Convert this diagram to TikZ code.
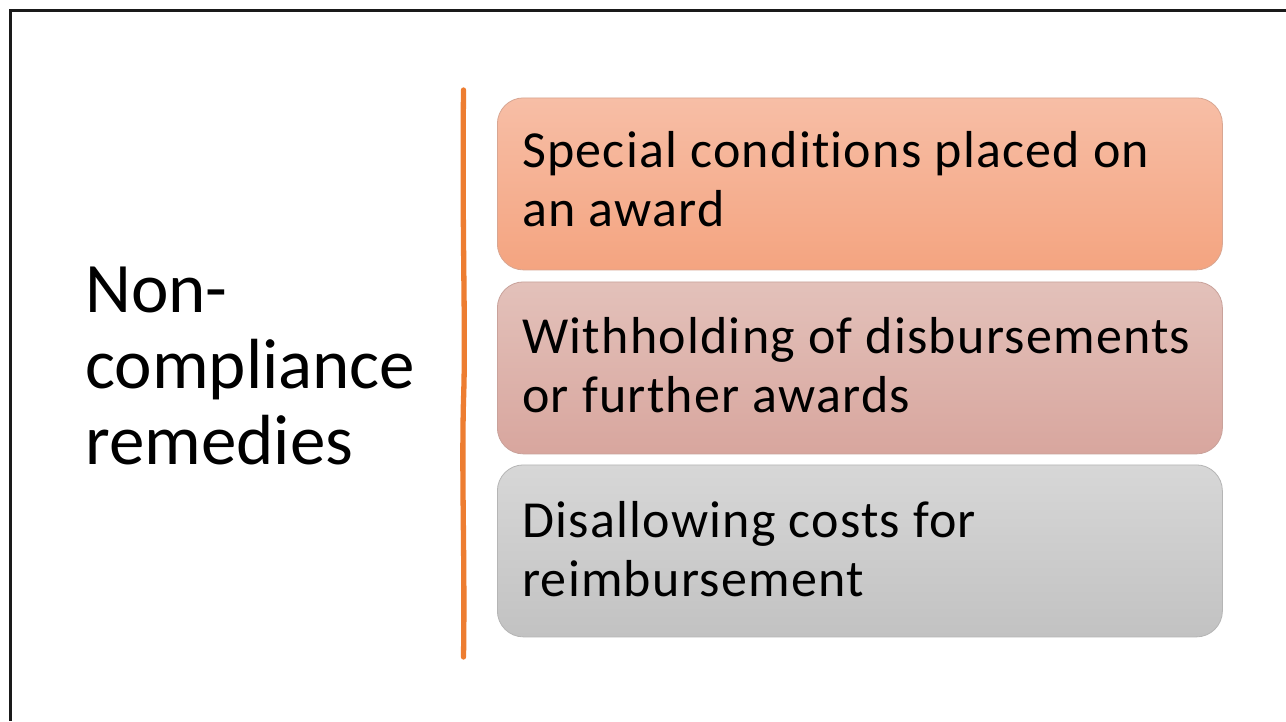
\documentclass[tikz,border=0pt]{standalone}
\usepackage{fontspec}
\setmainfont{Carlito}
\newfontfamily\boxfont[LetterSpace=2.4,Ligatures=NoCommon]{Carlito}
\definecolor{frame}{HTML}{1A1A1A}
\definecolor{accent}{HTML}{ED7D31}
\definecolor{aTop}{HTML}{F7BEA6}
\definecolor{aBot}{HTML}{F4A480}
\definecolor{aLine}{HTML}{D8A692}
\definecolor{bTop}{HTML}{E3C1BA}
\definecolor{bBot}{HTML}{D8A69E}
\definecolor{bLine}{HTML}{C9A29B}
\definecolor{cTop}{HTML}{D7D7D7}
\definecolor{cBot}{HTML}{C2C2C2}
\definecolor{cLine}{HTML}{B5B5B5}
\begin{document}
\begin{tikzpicture}[x=1pt,y=-1pt,
  itembox/.style={rectangle, rounded corners=26pt, minimum width=725pt, minimum height=172pt, inner sep=0pt, anchor=north west, line width=0.8pt},
  itemtext/.style={anchor=base west, inner sep=0pt, font=\boxfont\fontsize{52}{59}\selectfont},
  titletext/.style={anchor=base west, inner sep=0pt, font=\fontsize{71}{75}\selectfont}]
\useasboundingbox (0,0) rectangle (1286,721);
\fill[white] (0,0) rectangle (1286,721);
% frame
\coordinate (fcorner) at (10.5,10.5);
\coordinate (fright) at (1286,10.5);
\coordinate (fbottom) at (10.5,721);
\draw[frame, line width=2.2pt] (fright) -- (fcorner) -- (fbottom);
% title
\node[titletext] (title) at (85,312) {\vtop{\baselineskip=76pt\hbox{Non-}\hbox{compliance}\hbox{remedies}}};
% accent line
\coordinate (ltop) at (463.5,90);
\coordinate (lbot) at (463.5,657);
\draw[accent, line width=5.3pt, line cap=round] (ltop) .. controls (462,250) and (466,330) .. (463.5,400) .. controls (461.5,480) and (465,560) .. (lbot);
% boxes
\node[itembox, draw=aLine, top color=aTop, bottom color=aBot] (boxA) at (497,97.5) {};
\node[itembox, draw=bLine, top color=bTop, bottom color=bBot] (boxB) at (497,281.5) {};
\node[itembox, draw=cLine, top color=cTop, bottom color=cBot] (boxC) at (497,464.5) {};
\node[itemtext] (textA) at (522,167.5) {\vtop{\baselineskip=59pt\hbox{Special conditions placed on}\hbox{an award}}};
\node[itemtext] (textB) at (522,353) {\vtop{\baselineskip=59pt\hbox{Withholding of disbursements}\hbox{or further awards}}};
\node[itemtext] (textC) at (522,537) {\vtop{\baselineskip=59pt\hbox{Disallowing costs for}\hbox{reimbursement}}};
\end{tikzpicture}
\end{document}
